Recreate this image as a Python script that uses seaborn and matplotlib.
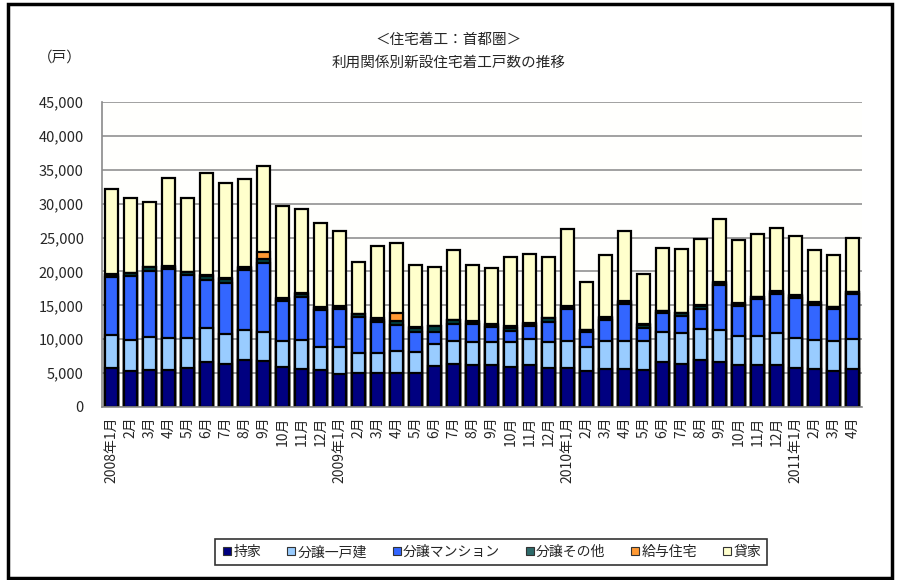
import numpy as np
import pandas as pd
import matplotlib
matplotlib.use("Agg")
import matplotlib.pyplot as plt
from matplotlib.patches import Rectangle
from matplotlib.lines import Line2D
import seaborn as sns

# Monthly housing starts in the Tokyo metropolitan area, by tenure (units)
months = ["2008年1月", "2月", "3月", "4月", "5月", "6月", "7月", "8月", "9月", "10月", "11月", "12月",
          "2009年1月", "2月", "3月", "4月", "5月", "6月", "7月", "8月", "9月", "10月", "11月", "12月",
          "2010年1月", "2月", "3月", "4月", "5月", "6月", "7月", "8月", "9月", "10月", "11月", "12月",
          "2011年1月", "2月", "3月", "4月"]

owner = [5800, 5300, 5500, 5500, 5800, 6650, 6400, 7000, 6750, 5900, 5650, 5400,
         4900, 4950, 4950, 5000, 5050, 6000, 6400, 6200, 6200, 5900, 6200, 5800,
         5700, 5350, 5550, 5550, 5450, 6650, 6400, 7000, 6650, 6200, 6200, 6200,
         5700, 5550, 5350, 5550]
detached = [4800, 4650, 4800, 4700, 4400, 4950, 4300, 4300, 4250, 3850, 4200, 3500,
            3900, 3050, 3050, 3200, 3050, 3300, 3350, 3350, 3450, 3700, 3800, 3800,
            4050, 3550, 4200, 4200, 4250, 4450, 4500, 4500, 4650, 4300, 4300, 4700,
            4500, 4300, 4400, 4550]
condo = [8600, 9350, 9800, 10200, 9300, 7100, 7600, 8900, 10300, 5850, 6450, 5400,
         5600, 5300, 4500, 3900, 3000, 1800, 2550, 2750, 2150, 1600, 2000, 2900,
         4650, 2100, 3150, 5450, 2000, 2700, 2500, 3000, 6700, 4400, 5400, 5800,
         5900, 5250, 4650, 6500]
other_sale = [250, 400, 500, 250, 350, 700, 600, 350, 500, 400, 400, 350,
              400, 350, 400, 600, 500, 800, 500, 250, 300, 400, 250, 600,
              400, 300, 300, 300, 400, 300, 400, 400, 300, 300, 300, 300,
              300, 300, 300, 300]
employer = [100, 100, 100, 100, 100, 100, 100, 100, 1000, 100, 100, 100,
            100, 100, 300, 1100, 200, 100, 100, 100, 100, 400, 100, 100,
            100, 100, 100, 100, 100, 100, 100, 100, 100, 100, 100, 100,
            100, 100, 100, 100]
rental = [12550, 11000, 9600, 13050, 10950, 15000, 14000, 12950, 12800, 13600, 12400, 12450,
          11000, 7650, 10500, 10400, 9100, 8600, 10200, 8250, 8300, 10200, 10250, 9000,
          11300, 7100, 9200, 10300, 7400, 9200, 9400, 9800, 9300, 9300, 9200, 9300,
          8800, 7600, 7700, 8000]

series_names = ["持家", "分譲一戸建", "分譲マンション", "分譲その他", "給与住宅", "貸家"]
series_colors = ["#000080", "#99CCFF", "#3366FF", "#00403F", "#FF9933", "#FFFFCC"]
legend_colors = ["#000080", "#99CCFF", "#3366FF", "#2E6B6B", "#FF9933", "#FFFFCC"]
y_ticks = [0, 5000, 10000, 15000, 20000, 25000, 30000, 35000, 40000, 45000]

sns.set_theme(style="white")
plt.rcParams["font.family"] = ["Noto Sans CJK JP", "DejaVu Sans"]

W, H = 901, 580
fig = plt.figure(figsize=(W / 100, H / 100), dpi=100)
fig.patch.set_facecolor("white")
ax = fig.add_axes([102 / W, 1 - 407 / H, 760 / W, 305 / H])
ax.set_facecolor("#FFFFFD")

layers = [owner, detached, condo, other_sale, employer, rental]
cum = np.cumsum(np.array(layers, dtype=float), axis=0)
pos = np.arange(len(months))

# Stack by drawing cumulative totals, tallest first
for i in reversed(range(len(layers))):
    df = pd.DataFrame({"pos": pos, "val": cum[i]})
    sns.barplot(data=df, x="pos", y="val", color=series_colors[i], saturation=1,
                width=0.72, edgecolor="black", linewidth=1.6, errorbar=None, ax=ax)

ax.set_xlim(-0.5, len(months) - 0.5)
ax.set_ylim(0, 45000)
ax.set_yticks(y_ticks)
ax.set_yticklabels([f"{v:,}" for v in y_ticks], fontsize=10.5)
ax.set_xticks(pos)
ax.set_xticklabels(months, rotation=90, fontsize=10, va="top")
ax.set_xlabel("")
ax.set_ylabel("")
ax.tick_params(axis="y", length=0, pad=13)
ax.tick_params(axis="x", length=0, pad=7)

ax.yaxis.grid(True, color="#9a9a9a", linewidth=1.3)
ax.set_axisbelow(True)
for side in ["top", "right"]:
    ax.spines[side].set_visible(False)
for side in ["left", "bottom"]:
    ax.spines[side].set_color("#8a8a8a")
    ax.spines[side].set_linewidth(1.2)

fig.text(449 / W, 1 - 40 / H, "＜住宅着工：首都圏＞", ha="center", va="center", fontsize=10.5)
fig.text(449 / W, 1 - 63 / H, "利用関係別新設住宅着工戸数の推移", ha="center", va="center", fontsize=10.5)
fig.text(38 / W, 1 - 58 / H, "（戸）", ha="left", va="center", fontsize=10.5)

handles = [Line2D([], [], marker="s", linestyle="none", markersize=5.5,
                  markerfacecolor=c, markeredgecolor="#333333", markeredgewidth=0.8)
           for c in legend_colors]
leg = fig.legend(handles, series_names, loc="center", bbox_to_anchor=(491 / W, 1 - 552 / H),
                 ncol=6, frameon=True, fancybox=False, fontsize=10,
                 handletextpad=0.0, columnspacing=1.7, borderpad=0.45, handlelength=0.9)
leg.get_frame().set_edgecolor("black")
leg.get_frame().set_linewidth(1.2)

fig.patches.append(Rectangle((8 / W, 2 / H), 884 / W, 574 / H, transform=fig.transFigure,
                             fill=False, edgecolor="black", linewidth=2.5))

fig.savefig("out.png", dpi=100)
